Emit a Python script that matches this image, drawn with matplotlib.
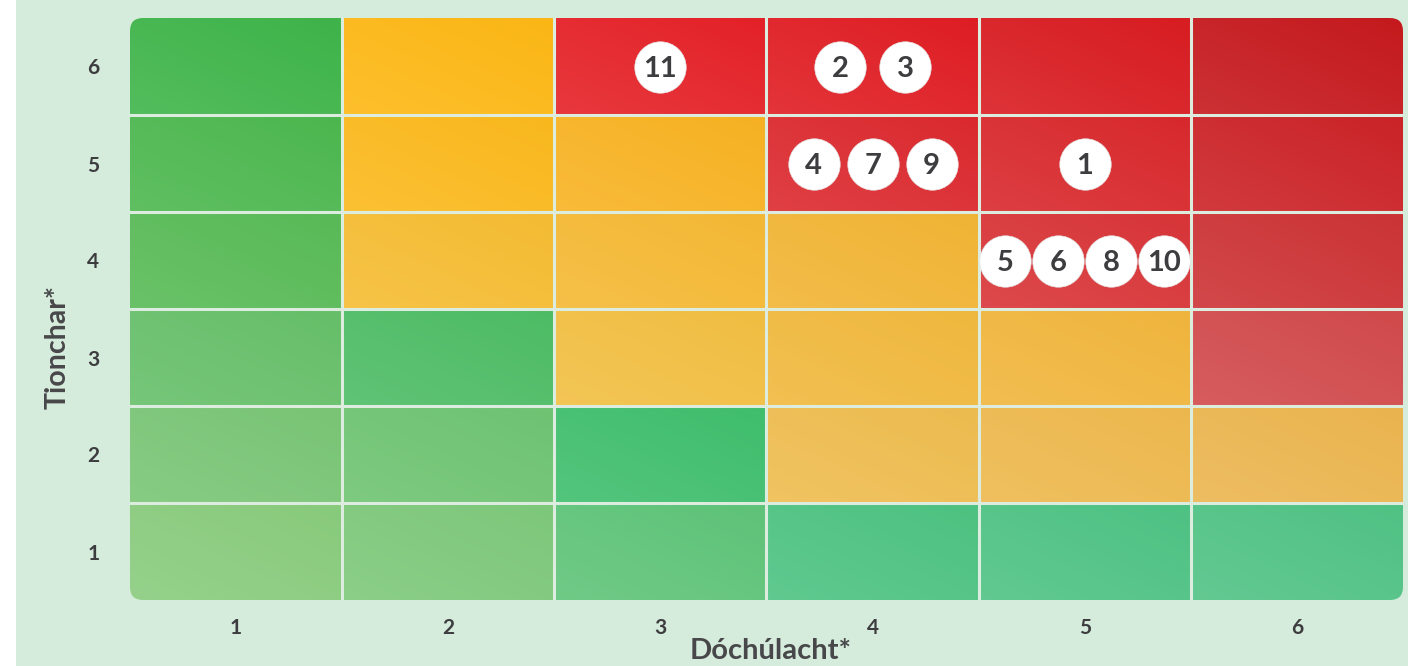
import matplotlib
matplotlib.use("Agg")
import matplotlib.pyplot as plt
from matplotlib.patches import FancyBboxPatch, Rectangle
from matplotlib.colors import to_rgb
import numpy as np

# axis categories
likelihood = [1, 2, 3, 4, 5, 6]
impact = [1, 2, 3, 4, 5, 6]

# risks: id, likelihood (x), impact (y)
risk_ids = [11, 2, 3, 4, 7, 9, 1, 5, 6, 8, 10]
risk_x = [3, 4, 4, 4, 4, 4, 5, 5, 5, 5, 5]
risk_y = [6, 6, 6, 5, 5, 5, 5, 4, 4, 4, 4]

# cell fill colours, top row (impact 6) first
cell_colors = [
    ['#3fb54a', '#fdb815', '#e52228', '#e01e24', '#d91d22', '#c61a1e'],
    ['#4db84f', '#fbb91d', '#f8b323', '#dc2a2f', '#d9292d', '#cc2428'],
    ['#59bb57', '#f6bd33', '#f5b934', '#f2b535', '#d93538', '#cd3436'],
    ['#67c06a', '#4ebd66', '#f2bf42', '#f1b93e', '#f1b63d', '#d24a4c'],
    ['#7ac676', '#6fc473', '#40bf6e', '#efbd50', '#eeb94e', '#ecb650'],
    ['#89cc7d', '#7ec97b', '#5fc479', '#4ec382', '#4fc384', '#51c385'],
]

BG = '#d5ebdb'
TEXT = '#3d3d40'
W, H = 1408, 666


def cell_gradient(col, n=24):
    # lighter at bottom-left, full colour at top-right
    c = np.array(to_rgb(col))
    light = c * 0.9 + 0.1
    dark = c * 0.99
    u = np.linspace(0, 1, n)
    v = np.linspace(1, 0, n)  # image row 0 is top
    t = (u[None, :] + v[:, None]) / 2
    return light[None, None, :] * (1 - t[..., None]) + dark[None, None, :] * t[..., None]


fig = plt.figure(figsize=(W / 100, H / 100), dpi=100)
fig.patches.append(Rectangle((16 / W, 0), 1 - 16 / W, 1, transform=fig.transFigure,
                             facecolor=BG, edgecolor='none', zorder=-10))

ax = fig.add_axes([130 / W, 1 - 600 / H, 1273 / W, 582 / H])
ax.patch.set_alpha(0)
for s in ax.spines.values():
    s.set_visible(False)

# rounded outline used to clip the cells
px_x = 1273 / 6
px_y = 582 / 6
clip = FancyBboxPatch((0.5, 0.5), 6, 6, boxstyle="round,pad=0,rounding_size=%f" % (13 / px_x),
                      mutation_aspect=px_x / px_y, transform=ax.transData,
                      facecolor='none', edgecolor='none')
ax.add_patch(clip)

for r, row in enumerate(cell_colors):
    yv = impact[-1 - r]
    for c, col in enumerate(row):
        xv = likelihood[c]
        im = ax.imshow(cell_gradient(col), extent=[xv - 0.5, xv + 0.5, yv - 0.5, yv + 0.5],
                       interpolation='bilinear', aspect='auto', zorder=1)
        im.set_clip_path(clip)

for b in np.arange(1.5, 6.5, 1):
    ax.axvline(b, color='#dcede0', lw=2.2, zorder=2)
    ax.axhline(b, color='#dcede0', lw=2.2, zorder=2)

ax.set_xlim(0.5, 6.5)
ax.set_ylim(0.5, 6.5)

# place risk markers side by side inside their cell
spacing = {1: 0, 2: 65, 3: 59, 4: 53}
cells = {}
for rid, x, y in zip(risk_ids, risk_x, risk_y):
    cells.setdefault((x, y), []).append(rid)
for (x, y), ids in cells.items():
    n = len(ids)
    step = spacing[n] / px_x
    for i, rid in enumerate(ids):
        cx = x + (i - (n - 1) / 2) * step
        ax.scatter([cx], [y], s=37 ** 2, color='white', edgecolors='#e6e6e6',
                   linewidths=0.5, zorder=5)
        ax.text(cx, y, str(rid), ha='center', va='center_baseline', fontsize=21,
                fontweight='bold', family='Lato', color=TEXT, zorder=6)

ax.set_xticks(likelihood)
ax.set_xticklabels([str(v) for v in likelihood])
ax.set_yticks(impact)
ax.set_yticklabels([str(v) for v in impact])
ax.tick_params(length=0, labelsize=15, labelcolor=TEXT)
ax.tick_params(axis='x', pad=13)
ax.tick_params(axis='y', pad=22)
for lab in ax.get_xticklabels() + ax.get_yticklabels():
    lab.set_fontweight('bold')
    lab.set_family('Lato')

fig.text(771 / W, 1 - 651 / H, 'Dóchúlacht*', ha='center', va='center', fontsize=21,
         fontweight='bold', family='Lato', color='#48484a')
fig.text(58 / W, 1 - 347 / H, 'Tionchar*', ha='center', va='center', rotation=90,
         fontsize=20.5, fontweight='bold', family='Lato', color='#48484a')

fig.savefig('out.png', dpi=100, facecolor='white')
